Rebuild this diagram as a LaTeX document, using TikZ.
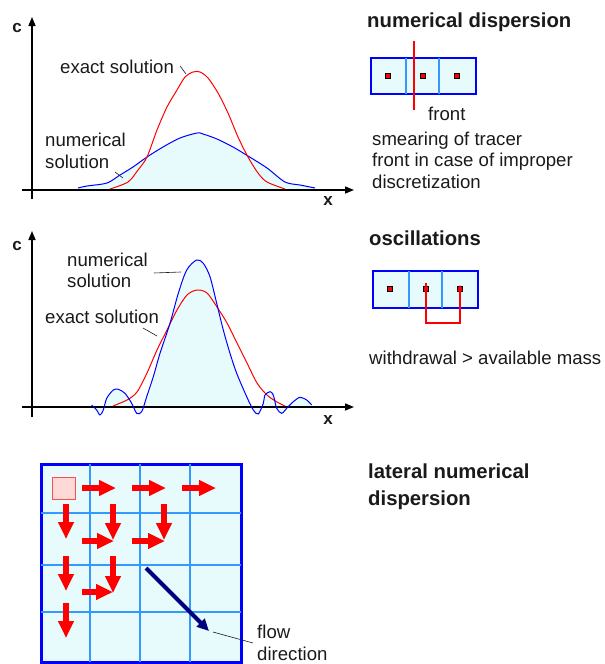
\documentclass[tikz,border=0pt]{standalone}
\usepackage{fontspec}
\setmainfont{Liberation Sans}
\usetikzlibrary{arrows.meta}
\definecolor{cyanfill}{HTML}{E8FBFC}
\definecolor{bblue}{HTML}{0000FF}
\definecolor{lblue}{HTML}{3399FF}
\definecolor{navyc}{HTML}{000080}
\definecolor{pinkc}{HTML}{FFD8D8}
\definecolor{txt}{HTML}{1A1A1A}
\tikzset{
  lbl/.style={font=\fontsize{18.6}{21.5}\selectfont, text=txt, inner sep=0pt, anchor=west, align=left},
  hd/.style={font=\bfseries\fontsize{20.3}{26.5}\selectfont, text=txt, inner sep=0pt, anchor=west, align=left},
  axlbl/.style={font=\bfseries\fontsize{17}{20}\selectfont, text=txt, inner sep=0pt},
  axis/.style={line width=1.5pt, -{Triangle[length=9pt,width=7pt]}},
  leader/.style={line width=0.6pt, draw=txt},
  redcurve/.style={red, line width=1pt},
  bluecurve/.style={bblue, line width=1pt},
  dotc/.style={draw=black, fill=red, line width=0.8pt, minimum size=4.5pt, inner sep=0pt},
  outerbox/.style={draw=bblue, line width=2.5pt, fill=cyanfill},
  innerline/.style={draw=lblue, line width=1.2pt},
  redarr/.style={red, line width=6.5pt, -{Triangle[length=17pt,width=15pt]}},
}
\begin{document}
\begin{tikzpicture}[x=1pt,y=-1pt]
\useasboundingbox (0,0) rectangle (605,664);

% ================= Panel 1 =================
\fill[cyanfill] (78,190) -- plot[smooth] coordinates {(78,188) (87,186) (107,183) (120,175) (133,167) (147,157) (163,147) (180,138) (197,133) (203,134) (217,139) (233,147) (248,156) (267,168) (285,182) (300,185) (315,188)} -- (315,190) -- cycle;
\coordinate (ya1) at (32,199);
\coordinate (yb1) at (32,17);
\coordinate (xa1) at (22,190);
\coordinate (xb1) at (354,190);
\draw[axis] (ya1) -- (yb1);
\draw[axis] (xa1) -- (xb1);
\node[axlbl] (c1) at (17,28) {c};
\node[axlbl] (x1) at (328,201) {x};
\draw[bluecurve] plot[smooth] coordinates {(78,188) (87,186) (107,183) (120,175) (133,167) (147,157) (163,147) (180,138) (197,133) (203,134) (217,139) (233,147) (248,156) (267,168) (285,182) (300,185) (315,188)};
\draw[redcurve] plot[smooth] coordinates {(110,189) (128,182) (138,170) (147,157) (157,130) (167,107) (177,90) (185,77) (193,72) (200,72) (208,78) (218,93) (228,113) (238,137) (248,157) (258,173) (267,182) (285,189)};
\node[lbl] (ex1) at (60,67) {exact solution};
\coordinate (ex1e) at (186,74);
\draw[leader] ([xshift=6pt,yshift=1pt]ex1.east) -- (ex1e);
\node[lbl] (nu1) at (45,151) {numerical\\solution};
\coordinate (nu1s) at (115,172);
\coordinate (nu1e) at (123,178);
\draw[leader] (nu1s) -- (nu1e);

% right 1
\node[hd] (h1) at (367,22) {numerical dispersion};
\draw[outerbox] (371,58) rectangle (476,94);
\draw[innerline] (406,58) -- (406,94);
\draw[innerline] (439,58) -- (439,94);
\node[dotc] (d11) at (388,76) {};
\node[dotc] (d12) at (423,76) {};
\node[dotc] (d13) at (457,76) {};
\coordinate (fr1) at (414,41);
\coordinate (fr2) at (414,110);
\draw[red, line width=1.1pt] (fr1) -- (fr2);
\node[lbl] (front) at (428,114) {front};
\node[lbl] (smear) at (372,160) {smearing of tracer\\front in case of improper\\discretization};

% ================= Panel 2 =================
\fill[cyanfill] (91.7,407) -- plot[smooth] coordinates {(91.7,405) (96.7,410) (100,415) (103.3,410) (106.7,398.3) (113.3,390) (118.3,389.3) (125,393.3) (131.7,403.3) (136.7,413.3) (141.7,411.7) (146.7,396.7) (153.3,376.7) (160,353.3) (170,323.3) (178.3,293.3) (186.7,270) (196.7,260) (203.3,263.3) (210,276.7) (216.7,303.3) (223.3,330) (230,353.3) (236.7,373.3) (246.7,396.7) (253.3,410) (258.3,414) (263.3,403.3) (265,395) (270,391.7) (273.3,395) (276.7,408.3) (281.7,413.3) (286.7,408.3) (293.3,401.7) (300,397.3) (306.7,400) (311.7,405)} -- (311.7,407) -- cycle;
\coordinate (ya2) at (32,417);
\coordinate (yb2) at (32,231);
\coordinate (xa2) at (22,407);
\coordinate (xb2) at (354,407);
\draw[axis] (ya2) -- (yb2);
\draw[axis] (xa2) -- (xb2);
\node[axlbl] (c2) at (17,246) {c};
\node[axlbl] (x2) at (328,420) {x};
\draw[redcurve] plot[smooth] coordinates {(113,406) (127,400) (137,392) (147,373) (157,350) (167,330) (177,310) (187,295) (197,290) (207,293) (217,307) (227,323) (237,343) (247,363) (257,383) (267,395) (277,402) (285,406)};
\draw[bluecurve] plot[smooth] coordinates {(91.7,405) (96.7,410) (100,415) (103.3,410) (106.7,398.3) (113.3,390) (118.3,389.3) (125,393.3) (131.7,403.3) (136.7,413.3) (141.7,411.7) (146.7,396.7) (153.3,376.7) (160,353.3) (170,323.3) (178.3,293.3) (186.7,270) (196.7,260) (203.3,263.3) (210,276.7) (216.7,303.3) (223.3,330) (230,353.3) (236.7,373.3) (246.7,396.7) (253.3,410) (258.3,414) (263.3,403.3) (265,395) (270,391.7) (273.3,395) (276.7,408.3) (281.7,413.3) (286.7,408.3) (293.3,401.7) (300,397.3) (306.7,400) (311.7,405)};
\node[lbl] (nu2) at (67,270.5) {numerical\\solution};
\coordinate (nu2s) at (154,273);
\coordinate (nu2e) at (181,272);
\draw[leader] (nu2s) -- (nu2e);
\node[lbl] (ex2) at (45,317) {exact solution};
\coordinate (ex2s) at (143,328);
\coordinate (ex2e) at (157,336);
\draw[leader] (ex2s) -- (ex2e);

% right 2
\node[hd] (h2) at (369,238) {oscillations};
\draw[outerbox] (373,271) rectangle (478,308);
\draw[innerline] (409,271) -- (409,308);
\draw[innerline] (442,271) -- (442,308);
\node[dotc] (d21) at (390,289) {};
\node[dotc] (d22) at (426,289) {};
\node[dotc] (d23) at (460,289) {};
\draw[red, line width=1.2pt, -{Triangle[length=6pt,width=5pt]}] ([yshift=6pt]d22.center) -- (426,323) -- (460,323) -- ([yshift=4pt]d23.center);
\node[lbl] (wd) at (369,358) {withdrawal > available mass};

% ================= Panel 3 =================
\node[hd] (h3) at (368,486.5) {lateral numerical\\dispersion};
\draw[outerbox, line width=3pt] (41,464) rectangle (241,662);
\foreach \xx in {90,140,190} \draw[innerline] (\xx,464) -- (\xx,662);
\foreach \yy in {513,565,612} \draw[innerline] (41,\yy) -- (241,\yy);
\node[draw=red!70, fill=pinkc, line width=1pt, minimum width=23pt, minimum height=22pt, inner sep=0pt] (src) at (64,488) {};
% right arrows
\draw[redarr] (82,488) -- (116,488);
\draw[redarr] (132,488) -- (166,488);
\draw[redarr] (182,488) -- (216,488);
\draw[redarr] (82,541) -- (114,541);
\draw[redarr] (132,541) -- (165,541);
\draw[redarr] (82,592) -- (113,592);
% down arrows
\draw[redarr] (66,504) -- (66,539);
\draw[redarr] (66,556) -- (66,591);
\draw[redarr] (66,603) -- (66,638);
\draw[redarr] (113,504) -- (113,540);
\draw[redarr] (113,556) -- (113,593);
\draw[redarr] (164,504) -- (164,540);
% flow direction
\coordinate (fa) at (146,568);
\coordinate (fb) at (209,631);
\draw[navyc, line width=4pt, -{Triangle[length=12pt,width=11pt]}] (fa) -- (fb);
\node[lbl] (flow) at (257,643) {flow\\direction};
\coordinate (fl1) at (213,632);
\draw[leader] (fl1) -- ([xshift=-4pt,yshift=0pt]flow.west);
\end{tikzpicture}
\end{document}
